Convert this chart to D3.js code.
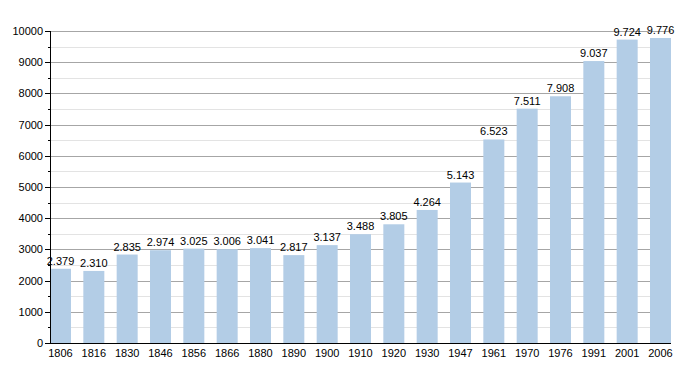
<!DOCTYPE html>
<html lang="en">
<head>
    <meta charset="UTF-8">
    <title>Population chart</title>
    <style>
        body {
            margin: 0;
            padding: 0;
            background: #ffffff;
        }
        svg text {
            font-family: "Liberation Sans", Arial, sans-serif;
            font-size: 11px;
            fill: #000;
        }
    </style>
</head>
<body>
    <div id="chart"></div>

    <script src="https://cdnjs.cloudflare.com/ajax/libs/d3/7.8.5/d3.min.js"></script>
    <script>
        // Data
        const years = ['1806', '1816', '1830', '1846', '1856', '1866', '1880', '1890', '1900', '1910',
                       '1920', '1930', '1947', '1961', '1970', '1976', '1991', '2001', '2006'];
        const population = [2379, 2310, 2835, 2974, 3025, 3006, 3041, 2817, 3137, 3488,
                            3805, 4264, 5143, 6523, 7511, 7908, 9037, 9724, 9776];
        const majorTicks = [0, 1000, 2000, 3000, 4000, 5000, 6000, 7000, 8000, 9000, 10000];
        const minorTicks = [500, 1500, 2500, 3500, 4500, 5500, 6500, 7500, 8500, 9500];

        const width = 700, height = 373;
        const plotLeft = 50, plotRight = 671, plotTop = 31, plotBottom = 343;

        const svg = d3.select('#chart')
            .append('svg')
            .attr('width', width)
            .attr('height', height);

        const x = d3.scaleBand()
            .domain(years)
            .range([plotLeft, plotRight])
            .paddingInner(0.37)
            .paddingOuter(0);

        const y = d3.scaleLinear()
            .domain([0, 10000])
            .range([plotBottom, plotTop]);

        const py = d => Math.round(y(d)) + 0.5;

        // Minor gridlines
        svg.append('g')
            .selectAll('line')
            .data(minorTicks)
            .enter()
            .append('line')
            .attr('x1', plotLeft)
            .attr('x2', plotRight)
            .attr('y1', py)
            .attr('y2', py)
            .attr('stroke', '#e3e3e3');

        // Major gridlines
        svg.append('g')
            .selectAll('line')
            .data(majorTicks.filter(d => d > 0))
            .enter()
            .append('line')
            .attr('x1', plotLeft)
            .attr('x2', plotRight)
            .attr('y1', py)
            .attr('y2', py)
            .attr('stroke', '#a6a6a6');

        // Bars
        svg.append('g')
            .selectAll('rect')
            .data(population)
            .enter()
            .append('rect')
            .attr('x', (d, i) => x(years[i]))
            .attr('y', d => y(d))
            .attr('width', x.bandwidth())
            .attr('height', d => plotBottom - y(d))
            .attr('fill', '#b3cde6');

        // Value labels, dot as thousands separator
        const fmt = d => (d / 1000).toFixed(3);
        svg.append('g')
            .selectAll('text')
            .data(population)
            .enter()
            .append('text')
            .attr('x', (d, i) => x(years[i]) + x.bandwidth() / 2)
            .attr('y', d => y(d) - 4)
            .attr('text-anchor', 'middle')
            .text(fmt);

        // Y axis
        const yAxis = svg.append('g');
        yAxis.append('line')
            .attr('x1', plotLeft + 0.5).attr('x2', plotLeft + 0.5)
            .attr('y1', plotTop).attr('y2', plotBottom)
            .attr('stroke', '#000');
        yAxis.selectAll('.major')
            .data(majorTicks)
            .enter()
            .append('line')
            .attr('class', 'major')
            .attr('x1', plotLeft - 5).attr('x2', plotLeft)
            .attr('y1', py)
            .attr('y2', py)
            .attr('stroke', '#000');
        yAxis.selectAll('.minor')
            .data(minorTicks)
            .enter()
            .append('line')
            .attr('class', 'minor')
            .attr('x1', plotLeft - 2).attr('x2', plotLeft)
            .attr('y1', py)
            .attr('y2', py)
            .attr('stroke', '#000');
        yAxis.selectAll('text')
            .data(majorTicks)
            .enter()
            .append('text')
            .attr('x', plotLeft - 7)
            .attr('y', d => y(d) + 4)
            .attr('text-anchor', 'end')
            .text(d => d);

        // X axis
        const xAxis = svg.append('g');
        xAxis.append('line')
            .attr('x1', plotLeft).attr('x2', plotRight)
            .attr('y1', plotBottom + 0.5).attr('y2', plotBottom + 0.5)
            .attr('stroke', '#000');
        xAxis.selectAll('text')
            .data(years)
            .enter()
            .append('text')
            .attr('x', d => x(d) + x.bandwidth() / 2)
            .attr('y', plotBottom + 14)
            .attr('text-anchor', 'middle')
            .text(d => d);
    </script>
</body>
</html>
